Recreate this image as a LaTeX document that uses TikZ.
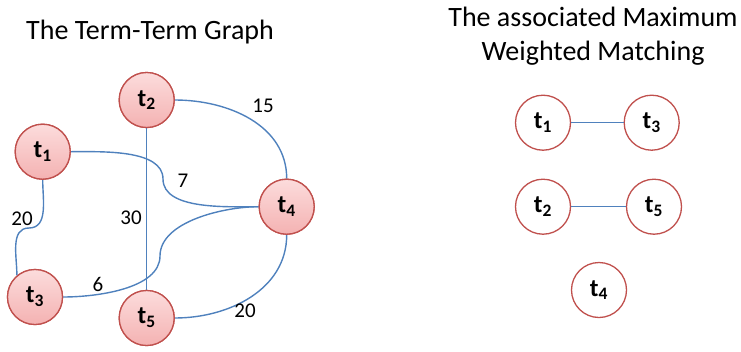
\documentclass[tikz,border=0pt]{standalone}
\usepackage{fontspec}
\setmainfont{Carlito}
\usepackage{tikz}
\usetikzlibrary{positioning}

\definecolor{edgeblue}{RGB}{79,129,189}
\definecolor{noderim}{RGB}{192,80,77}
\definecolor{nodetop}{RGB}{252,220,220}
\definecolor{nodebot}{RGB}{244,178,178}

\newcommand{\tlab}[1]{\bfseries t\textsubscript{#1}}

\begin{document}
\begin{tikzpicture}[x=1pt, y=-1pt,
    term/.style={circle, draw=noderim, line width=1.3pt, minimum size=55pt, inner sep=0pt,
        top color=nodetop, bottom color=nodebot, font=\fontsize{25}{27}\selectfont},
    matched/.style={term, top color=white, bottom color=white},
    edge/.style={edgeblue, line width=1.4pt},
    weight/.style={font=\fontsize{21}{23}\selectfont}]
    \useasboundingbox (0,0) rectangle (741,351);

    % titles
    \node[font=\fontsize{28}{30}\selectfont, anchor=base] (title1) at (150,39) {The Term-Term Graph};
    \node[font=\fontsize{28}{30}\selectfont, anchor=base] (title2a) at (593,26) {The associated Maximum};
    \node[font=\fontsize{28}{30}\selectfont, anchor=base] (title2b) at (593,60) {Weighted Matching};

    % term-term graph: edges go first, nodes are drawn over them
    \coordinate (k13) at (29,228);
    \coordinate (k14) at (163,179);
    \coordinate (k34) at (160,256);
    \path (42.7,151.7) coordinate (p1) (146.7,100) coordinate (p2) (35,297) coordinate (p3)
          (286.7,206.7) coordinate (p4) (146.7,318) coordinate (p5);

    \foreach \i in {1,...,5} {
        \node[term] (t\i) at (p\i) {};
    }

    \draw[edge] (t1.south) to[out=-90, in=0] (k13) to[out=180, in=90] (t3.130);
    \draw[edge] (t1.east) to[out=0, in=90, looseness=0.8] (k14) to[out=-90, in=180, looseness=0.8] (t4.west);
    \draw[edge] (t3.east) to[out=0, in=-90, looseness=0.8] (k34) to[out=90, in=180, looseness=0.8] (t4.west);
    \draw[edge] (t2.east) to[out=0, in=90] (t4.north);
    \draw[edge] (t4.south) to[out=-90, in=0] (t5.east);
    \draw[edge] (t2) -- (t5);

    % redraw the terms on top of the edges
    \foreach \i in {1,...,5} {
        \node[term] at (p\i) {\tlab{\i}};
    }

    % weights
    \node[weight] (w13) at (22,219) {20};
    \node[weight] (w14) at (183,181) {7};
    \node[weight] (w25) at (131,218) {30};
    \node[weight] (w24) at (263,106) {15};
    \node[weight] (w34) at (98,284) {6};
    \node[weight] (w45) at (245,311) {20};

    % maximum weighted matching
    \node[matched] (m1) at (543,122.7) {\tlab{1}};
    \node[matched] (m3) at (651.7,122.7) {\tlab{3}};
    \node[matched] (m2) at (543,206.7) {\tlab{2}};
    \node[matched] (m5) at (654,206.7) {\tlab{5}};
    \node[matched] (m4) at (599,290) {\tlab{4}};
    \draw[edge] (m1) -- (m3);
    \draw[edge] (m2) -- (m5);
\end{tikzpicture}
\end{document}
